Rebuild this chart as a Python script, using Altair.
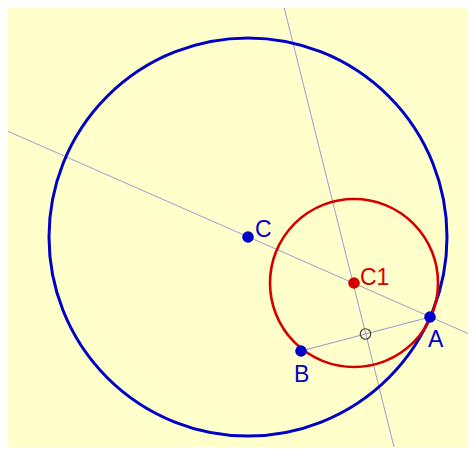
import altair as alt
import pandas as pd

# ---- data (pixel-like geometry coordinates) ----
circle_names = ["C", "C1"]
circle_cx = [248, 354]
circle_cy = [237, 283]
circle_r = [199, 84]

point_names = ["C", "C1", "A", "B"]
point_x = [248, 354, 430, 301]
point_y = [237, 283, 317, 351]

mid_x = [365.5]
mid_y = [334]

line_names = ["CA", "bisector"]
line_x1 = [5, 284]
line_y1 = [130, 7]
line_x2 = [476, 396]
line_y2 = [337, 455]

seg_x1 = [301]
seg_y1 = [351]
seg_x2 = [430]
seg_y2 = [317]

W, H = 460, 439
xs = alt.Scale(domain=[8, 8 + W], nice=False, zero=False)
ys = alt.Scale(domain=[8, 8 + H], nice=False, zero=False, reverse=True)

circles = pd.DataFrame({"name": circle_names, "x": circle_cx, "y": circle_cy, "r": circle_r})
points = pd.DataFrame({"name": point_names, "x": point_x, "y": point_y})
mid = pd.DataFrame({"x": mid_x, "y": mid_y})
lines = pd.DataFrame({"name": line_names, "x": line_x1, "y": line_y1, "x2": line_x2, "y2": line_y2})
seg = pd.DataFrame({"x": seg_x1, "y": seg_y1, "x2": seg_x2, "y2": seg_y2})

X = lambda: alt.X("x:Q", scale=xs, axis=None)
Y = lambda: alt.Y("y:Q", scale=ys, axis=None)

line_color = "#9C9CCF"
lines_layer = alt.Chart(lines).mark_rule(color=line_color, strokeWidth=1, clip=True).encode(
    x=X(), y=Y(), x2="x2:Q", y2="y2:Q")
seg_layer = alt.Chart(seg).mark_rule(color=line_color, strokeWidth=1.2).encode(
    x=X(), y=Y(), x2="x2:Q", y2="y2:Q")

def circle_layer(name, color, sw):
    return alt.Chart(circles).transform_filter(alt.datum.name == name).transform_calculate(
        s="pow(2*datum.r, 2)").mark_point(
        shape="circle", filled=False, stroke=color, strokeWidth=sw, opacity=1, clip=True
    ).encode(x=X(), y=Y(), size=alt.Size("s:Q", scale=None, legend=None))

blue_circle = circle_layer("C", "#0000C8", 3)
red_circle = circle_layer("C1", "#D40000", 2.6)

mid_layer = alt.Chart(mid).mark_point(shape="circle", filled=False, stroke="#404040",
                                      strokeWidth=1.2, size=110, opacity=1).encode(x=X(), y=Y())

pt_colors = ["#0000C8", "#D40000", "#0000C8", "#0000C8"]
pts_layer = alt.Chart(points).mark_circle(size=135, opacity=1).encode(
    x=X(), y=Y(),
    color=alt.Color("name:N", scale=alt.Scale(domain=point_names, range=pt_colors), legend=None))

label_offsets = {"C": (7, 0), "C1": (6, 2), "A": (-2, 30), "B": (-7, 31)}
label_layers = []
for i, n in enumerate(point_names):
    dx, dy = label_offsets[n]
    label_layers.append(
        alt.Chart(points).transform_filter(alt.datum.name == n).mark_text(
            align="left", baseline="alphabetic", dx=dx, dy=dy, fontSize=23,
            font="Liberation Sans", color=pt_colors[i]
        ).encode(x=X(), y=Y(), text="name:N"))

chart = alt.layer(lines_layer, seg_layer, blue_circle, red_circle, mid_layer, pts_layer,
                  *label_layers).properties(
    width=W, height=H, padding=0, autosize=alt.AutoSizeParams(type="none"),
    background="#FFFFCC"
).configure_view(stroke=None)

chart.save("out.html", embed_options={"renderer": "svg", "actions": False})
